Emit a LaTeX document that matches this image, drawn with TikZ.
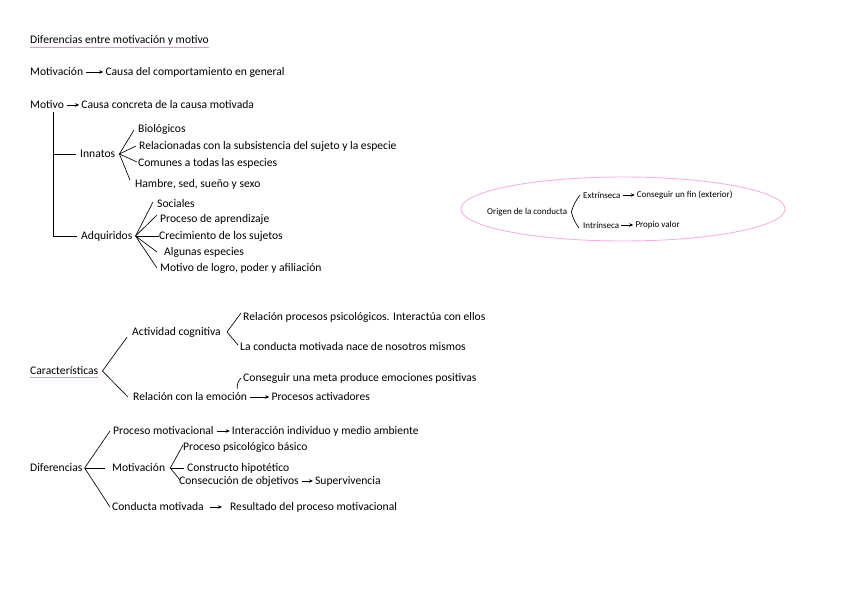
\documentclass[tikz,border=0pt]{standalone}
\usepackage{fontspec}
\setmainfont{Carlito}
\usetikzlibrary{arrows.meta, positioning}
\definecolor{rosa}{RGB}{236,150,190}
\definecolor{rosaclaro}{RGB}{244,180,224}
\begin{document}
\begin{tikzpicture}[x=1pt, y=-1pt,
    txt/.style={anchor=west, inner sep=0pt, font=\fontsize{11.6}{13}\selectfont},
    mini/.style={anchor=west, inner sep=0pt, font=\fontsize{9}{10}\selectfont},
    rama/.style={line width=0.65pt},
    flecha/.style={line width=0.65pt, -{Stealth[length=4pt, width=3.5pt]}, shorten <=3pt, shorten >=2pt},
    subraya/.style={rosa, line width=0.9pt}]

    \useasboundingbox (0,0) rectangle (848,599);

    % titulo
    \node[txt] (titulo) at (30,40) {Diferencias entre motivación y motivo};
    \draw[subraya] ([yshift=-2pt]titulo.south west) -- ([yshift=-2pt]titulo.south east);

    % motivacion y motivo
    \node[txt] (motivacion) at (30,72) {Motivación};
    \node[txt, right=22pt of motivacion] (causaGeneral) {Causa del comportamiento en general};
    \draw[flecha] (motivacion) -- (causaGeneral);

    \node[txt] (motivo) at (30,105) {Motivo};
    \node[txt, right=17pt of motivo] (causaConcreta) {Causa concreta de la causa motivada};
    \draw[flecha] (motivo) -- (causaConcreta);

    % innatos y adquiridos
    \node[txt] (innatos) at (80,154) {Innatos};
    \node[txt] (adquiridos) at (81,236) {Adquiridos};
    \coordinate (tronco) at (53,112);
    \draw[rama] (tronco) |- ([xshift=-4pt]adquiridos.west);
    \draw[rama] (tronco |- innatos) -- ([xshift=-4pt]innatos.west);

    \node[txt] (biologicos) at (138,129) {Biológicos};
    \node[txt] (relacionadas) at (139,146) {Relacionadas con la subsistencia del sujeto y la especie};
    \node[txt] (comunes) at (138,163) {Comunes a todas las especies};
    \node[txt] (hambre) at (135,184) {Hambre, sed, sueño y sexo};
    \coordinate (vInnatos) at ([xshift=4pt]innatos.east);
    \draw[rama] (vInnatos) -- ([xshift=-4pt,yshift=-1pt]biologicos.west);
    \draw[rama] (vInnatos) -- ([xshift=-3pt]relacionadas.west);
    \draw[rama] (vInnatos) -- ([xshift=-1pt,yshift=1pt]comunes.west);
    \draw[rama] (vInnatos) -- ([xshift=-5pt,yshift=4pt]hambre.west);

    \node[txt] (sociales) at (157,204) {Sociales};
    \node[txt] (aprendizaje) at (160,219) {Proceso de aprendizaje};
    \node[txt] (crecimiento) at (159,236) {Crecimiento de los sujetos};
    \node[txt] (algunas) at (164,252) {Algunas especies};
    \node[txt] (logro) at (160,268) {Motivo de logro, poder y afiliación};
    \coordinate (vAdquiridos) at ([xshift=3pt]adquiridos.east);
    \draw[rama] (vAdquiridos) -- ([xshift=-4pt,yshift=2pt]sociales.west);
    \draw[rama] (vAdquiridos) -- ([xshift=-3pt,yshift=4pt]aprendizaje.west);
    \draw[rama] (vAdquiridos) -- (crecimiento.west);
    \draw[rama] (vAdquiridos) -- ([xshift=-7pt]algunas.west);
    \draw[rama] (vAdquiridos) -- ([xshift=-3pt]logro.west);

    % origen de la conducta
    \draw[rosaclaro, line width=0.9pt] (623,209) ellipse [x radius=162pt, y radius=32pt];
    \node[mini] (origen) at (487,212) {Origen de la conducta};
    \node[mini] (extrinseca) at (583,195) {Extrínseca};
    \node[mini, right=16pt of extrinseca] (fin) {Conseguir un fin (exterior)};
    \node[mini] (intrinseca) at (583,225) {Intrínseca};
    \node[mini, right=16pt of intrinseca] (valor) {Propio valor};
    \coordinate (vOrigen) at ([xshift=4pt]origen.east);
    \draw[rama] (vOrigen) to[bend left=10] ([xshift=-3pt]extrinseca.west);
    \draw[rama] (vOrigen) to[bend right=10] ([xshift=-4pt,yshift=-3pt]intrinseca.west);
    \draw[flecha, shorten <=2pt] (extrinseca) -- (fin);
    \draw[flecha, shorten <=2pt] (intrinseca) -- (valor);

    % caracteristicas
    \node[txt] (caracteristicas) at (30,371) {Características};
    \draw[subraya] ([yshift=-2pt]caracteristicas.south west) -- ([yshift=-2pt]caracteristicas.south east);
    \node[txt] (cognitiva) at (132,332) {Actividad cognitiva};
    \node[txt] (emocion) at (133,397) {Relación con la emoción};
    \coordinate (vCaract) at ([xshift=4pt]caracteristicas.east);
    \draw[rama] (vCaract) -- ([xshift=-5pt]cognitiva.south west);
    \draw[rama] (vCaract) -- ([xshift=-5pt]emocion.west);

    \node[txt] (psicologicos) at (243,317) {Relación procesos psicológicos. Interactúa con ellos};
    \node[txt] (nosotros) at (240,347) {La conducta motivada nace de nosotros mismos};
    \coordinate (vCognitiva) at ([xshift=6pt]cognitiva.east);
    \draw[rama] (vCognitiva) -- ([xshift=-2pt,yshift=4pt]psicologicos.west);
    \draw[rama] (vCognitiva) -- ([xshift=-2pt,yshift=2pt]nosotros.west);

    \node[txt] (meta) at (243,378) {Conseguir una meta produce emociones positivas};
    \node[txt, right=24pt of emocion] (activadores) {Procesos activadores};
    \draw[rama] ([xshift=-10pt,yshift=4pt]emocion.north east) to[bend left=25] ([xshift=-2pt]meta.west);
    \draw[flecha] (emocion) -- (activadores);

    % diferencias
    \node[txt] (diferencias) at (30,468) {Diferencias};
    \node[txt] (procesoMot) at (113,431) {Proceso motivacional};
    \node[txt, right=18pt of procesoMot] (interaccion) {Interacción individuo y medio ambiente};
    \node[txt] (motivacionDif) at (112,468) {Motivación};
    \node[txt] (conductaMot) at (112,507) {Conducta motivada};
    \node[txt, right=26pt of conductaMot] (resultado) {Resultado del proceso motivacional};
    \coordinate (vDif) at ([xshift=2pt]diferencias.east);
    \draw[rama] (vDif) -- ([xshift=-3pt]procesoMot.west);
    \draw[rama] (vDif) -- ([xshift=-7pt]motivacionDif.west);
    \draw[rama] (vDif) -- ([xshift=-2pt]conductaMot.west);
    \draw[flecha] (procesoMot) -- (interaccion);
    \draw[flecha, shorten <=6pt, shorten >=8pt] (conductaMot) -- (resultado);

    \node[txt] (basico) at (183,447) {Proceso psicológico básico};
    \node[txt] (constructo) at (187,468) {Constructo hipotético};
    \node[txt] (consecucion) at (179,481) {Consecución de objetivos};
    \node[txt, right=16pt of consecucion] (supervivencia) {Supervivencia};
    \coordinate (vMotivacion) at ([xshift=5pt]motivacionDif.east);
    \draw[rama] (vMotivacion) -- ([yshift=2pt]basico.west);
    \draw[rama] (vMotivacion) -- ([xshift=-3pt]constructo.west);
    \draw[rama] (vMotivacion) -- ([xshift=1pt,yshift=1pt]consecucion.west);
    \draw[flecha] (consecucion) -- (supervivencia);
\end{tikzpicture}
\end{document}
